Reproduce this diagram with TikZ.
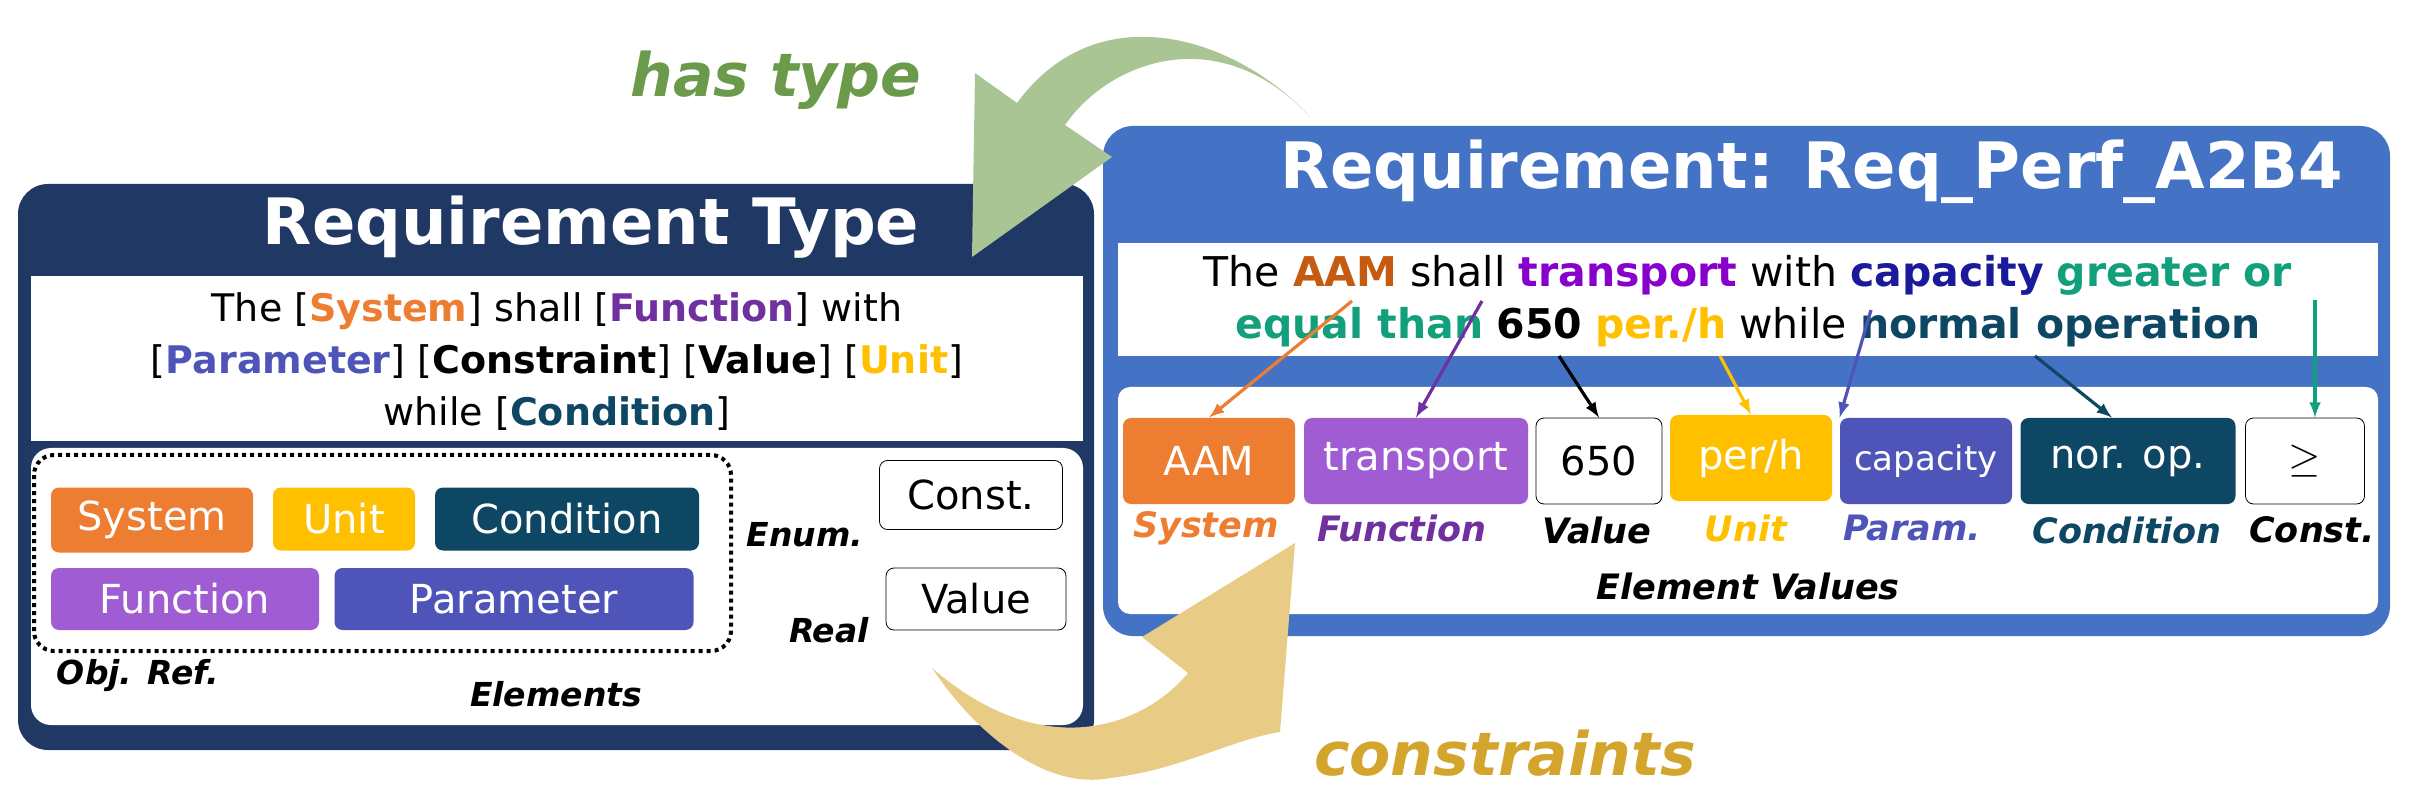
\documentclass[tikz,border=0pt]{standalone}
\usepackage{fontspec}
\setmainfont{DejaVu Sans}
\begin{document}
\definecolor{navy}{HTML}{203864}
\definecolor{rblue}{HTML}{4472C4}
\definecolor{cor}{HTML}{ED7D31}
\definecolor{cyel}{HTML}{FFC000}
\definecolor{ccond}{HTML}{0E4763}
\definecolor{cfunb}{HTML}{A05CD2}
\definecolor{cfun}{HTML}{7030A0}
\definecolor{cpar}{HTML}{4F55B8}
\definecolor{caam}{HTML}{C55A11}
\definecolor{ctr}{HTML}{8800CC}
\definecolor{ccap}{HTML}{1A1A9A}
\definecolor{cgr}{HTML}{12A07C}
\definecolor{garrow}{HTML}{A9C594}
\definecolor{yarrow}{HTML}{E8CC86}
\definecolor{gtext}{HTML}{6A9A4A}
\definecolor{ytext}{HTML}{D4A52C}
\begin{tikzpicture}[x=0.5pt,y=-0.5pt,
  frame/.style={rounded corners=15pt},
  elem/.style={draw=none,inner sep=0pt,rounded corners=4pt,text=white,font=\fontsize{20}{24}\selectfont},
  wbox/.style={draw=black,thin,inner sep=0pt,fill=white,rounded corners=4pt,font=\fontsize{20}{24}\selectfont},
  lab/.style={font=\fontsize{16.5}{19}\selectfont\bfseries\itshape},
  rlab/.style={font=\fontsize{17.5}{20}\selectfont\bfseries\itshape},
  txt/.style={font=\fontsize{19}{26}\selectfont,align=center},
  ttl/.style={font=\fontsize{32}{38}\selectfont\bfseries,text=white},
  ptr/.style={line width=1.6pt,-latex}]
\useasboundingbox (0,0) rectangle (2409,807);
% left box
\fill[navy,frame] (18,184) rectangle (1094,750);
\node[ttl] (lt) at (591,227) {Requirement Type};
\fill[white] (31,276) rectangle (1083,441);
\fill[white,rounded corners=10pt] (31,448) rectangle (1083,725);
\node[txt] (ltxt) at (557,362) {The [\textcolor{cor}{\bfseries System}] shall [\textcolor{cfun}{\bfseries Function}] with\\{}[\textcolor{cpar}{\bfseries Parameter}] [\textbf{Constraint}] [\textbf{Value}] [\textcolor{cyel}{\bfseries Unit}]\\{}while [\textcolor{ccond}{\bfseries Condition}]};
\draw[line width=2pt,dotted,rounded corners=10pt] (34,455) rectangle (731,651);
\node[elem,fill=cor,minimum width=101pt,minimum height=32.5pt] (sys) at (152,520) {System};
\node[elem,fill=cyel,minimum width=71pt,minimum height=31.5pt] (unit) at (344,519) {Unit};
\node[elem,fill=ccond,minimum width=132pt,minimum height=31.5pt] (cond) at (567,519) {Condition};
\node[elem,fill=cfunb,minimum width=134pt,minimum height=31pt] (fun) at (185,599) {Function};
\node[elem,fill=cpar,minimum width=179.5pt,minimum height=31pt] (par) at (514,599) {Parameter};
\node[lab] (objref) at (138,676) {Obj. Ref.};
\node[lab] (elems) at (556,694) {Elements};
\node[lab] (enum) at (805,535) {Enum.};
\node[wbox,minimum width=91.5pt,minimum height=34.5pt] (const) at (971,495) {Const.};
\node[lab] (real) at (829,630) {Real};
\node[wbox,minimum width=90pt,minimum height=31pt] (val) at (976,599) {Value};
% right box
\fill[rblue,frame] (1103,126) rectangle (2390,636);
\node[ttl] (rt) at (1812,172) {Requirement: Req\_Perf\_A2B4};
\fill[white] (1118,243) rectangle (2378,356);
\fill[white,rounded corners=6pt] (1118,387) rectangle (2378,614);
\node[txt,font=\fontsize{20.5}{26}\selectfont] (rtxt) at (1748,301) {The \textcolor{caam}{\bfseries AAM} shall \textcolor{ctr}{\bfseries transport} with \textcolor{ccap}{\bfseries capacity} \textcolor{cgr}{\bfseries greater or}\\{}\textcolor{cgr}{\bfseries equal than} \textbf{650} \textcolor{cyel}{\bfseries per./h} while \textcolor{ccond}{\bfseries normal operation}};
\node[elem,fill=cor,minimum width=86pt,minimum height=43pt] (vaam) at (1209,461) {AAM};
\node[elem,fill=cfunb,minimum width=112pt,minimum height=43pt] (vtr) at (1416,461) {transport};
\node[wbox,minimum width=63pt,minimum height=43pt] (v650) at (1599,461) {650};
\node[elem,fill=cyel,minimum width=81pt,minimum height=43pt] (vph) at (1751,458) {per/h};
\node[elem,fill=cpar,minimum width=86pt,minimum height=43pt,font=\fontsize{17}{20}\selectfont] (vcap) at (1926,461) {capacity};
\node[elem,fill=ccond,minimum width=107.5pt,minimum height=43pt] (vno) at (2128,461) {nor. op.};
\node[wbox,minimum width=59.5pt,minimum height=43pt] (vge) at (2305,461) {$\geq$};
\node[rlab,text=cor] (l1) at (1206,528) {System};
\node[rlab,text=cfun] (l2) at (1402,528) {Function};
\node[rlab] (l3) at (1597,530) {Value};
\node[rlab,text=cyel] (l4) at (1746,528) {Unit};
\node[rlab,text=cpar] (l5) at (1912,528) {Param.};
\node[rlab,text=ccond] (l6) at (2127,530) {Condition};
\node[rlab] (l7) at (2312,530) {Const.};
\node[rlab] (ev) at (1748,586) {Element Values};
% pointers
\coordinate (sa) at (1352,301); \coordinate (sb) at (1482,301);
\coordinate (sc) at (1559,356); \coordinate (sd) at (1720,356);
\coordinate (se) at (1871,310); \coordinate (sf) at (2035,356);
\coordinate (sg) at (2315,300);
\draw[ptr,cor] (sa) -- (vaam.north);
\draw[ptr,cfun] (sb) -- (vtr.north);
\draw[ptr,black] (sc) -- (v650.north);
\draw[ptr,cyel] (sd) -- (vph.north);
\draw[ptr,cpar] (se) -- (vcap.north west);
\draw[ptr,ccond] (sf) -- ([xshift=-8pt]vno.north);
\draw[ptr,cgr] (sg) -- ([xshift=5pt]vge.north);
% big arrows
\fill[garrow] (1310,117) .. controls (1240,40) and (1100,-10) .. (1017,103)
  -- (975,73) -- (972,257) -- (1112,157) -- (1065,125)
  .. controls (1110,60) and (1220,20) .. (1310,117) -- cycle;
\fill[yarrow] (932,668) .. controls (980,740) and (1050,790) .. (1110,778)
  .. controls (1180,770) and (1230,740) .. (1280,732) -- (1295,543) -- (1142,637)
  -- (1188,673) .. controls (1150,720) and (1050,770) .. (932,668) -- cycle;
\node[font=\fontsize{30}{36}\selectfont\bfseries\itshape,text=gtext] (ht) at (776,80) {has type};
\node[font=\fontsize{30}{36}\selectfont\bfseries\itshape,text=ytext] (cs) at (1505,753) {constraints};
\end{tikzpicture}
\end{document}
